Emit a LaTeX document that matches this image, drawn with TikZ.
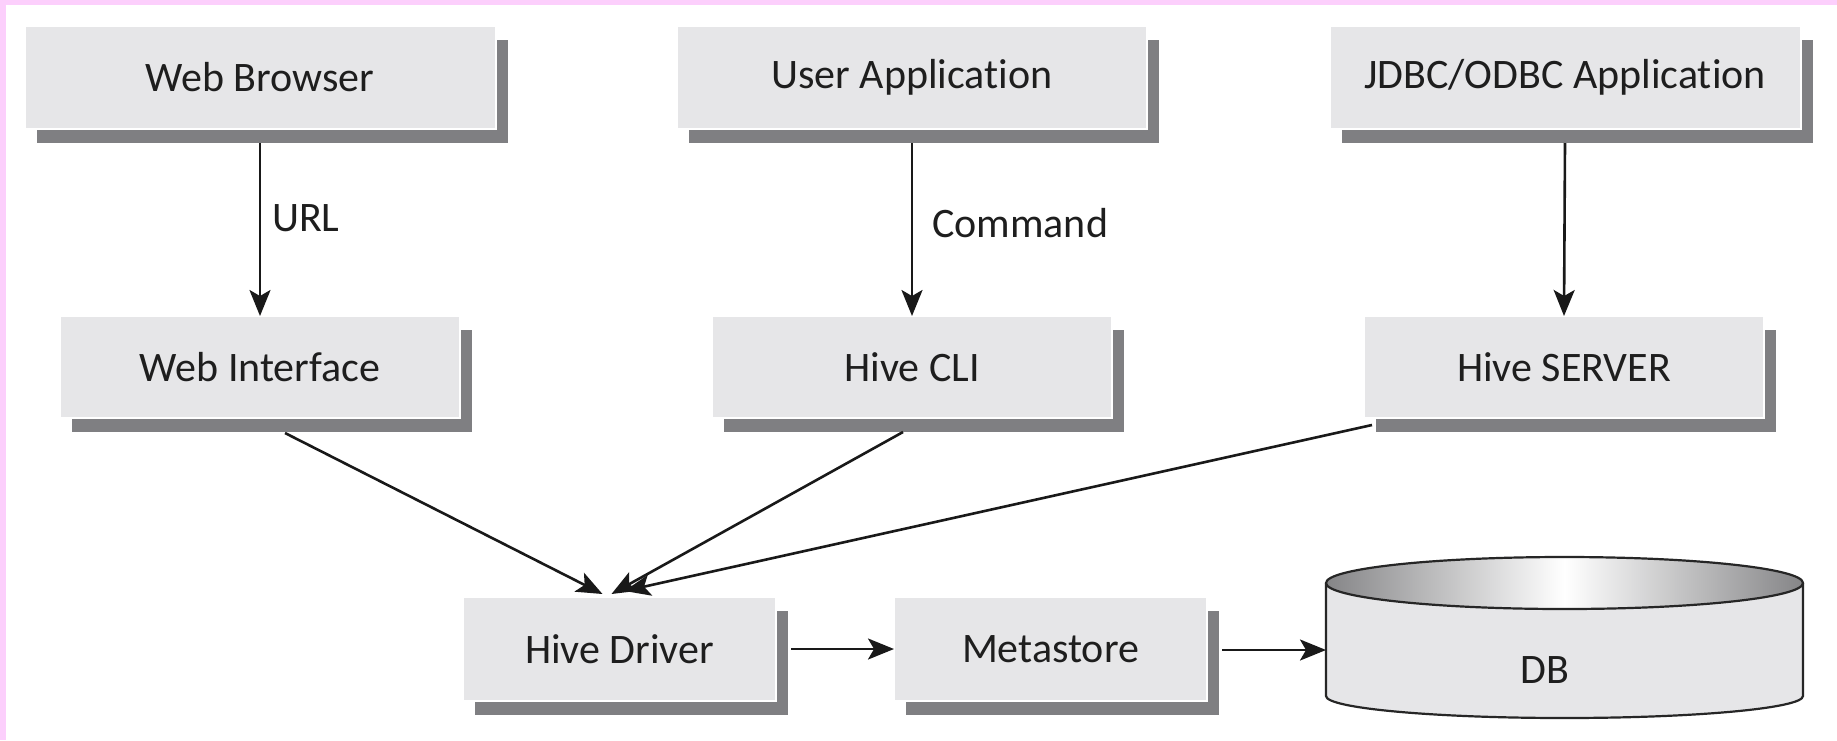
\documentclass[tikz,border=0pt]{standalone}
\usepackage{fontspec}
\setmainfont{Carlito}[Ligatures=NoCommon]
\usetikzlibrary{shadows,arrows.meta}
\definecolor{boxfill}{HTML}{E6E6E8}
\definecolor{shgray}{HTML}{7F7F82}
\definecolor{txt}{HTML}{1E1E1E}
\definecolor{pinkband}{HTML}{FCCFFC}
\definecolor{dbgray}{HTML}{858587}
\tikzset{
  hbox/.style={fill=boxfill, draw=white, line width=2pt, inner sep=0pt, outer sep=0pt,
    text=txt, font=\fontsize{42}{50}\selectfont,
    drop shadow={shadow xshift=12pt, shadow yshift=-14pt, fill=shgray, opacity=1}},
  conn/.style={draw=black!90, line width=2.6pt, -{Stealth[length=26pt,width=21pt,inset=6pt]}},
  lbl/.style={text=txt, font=\fontsize{42}{50}\selectfont, inner sep=0pt, anchor=west}
}
\begin{document}
\begin{tikzpicture}[x=1pt,y=1pt]
\useasboundingbox (0,0) rectangle (1837,-740);
\fill[white] (0,0) rectangle (1837,-740);
\fill[pinkband] (0,0) rectangle (1837,-5);
\fill[pinkband] (0,0) rectangle (6,-740);

% boxes
\node[hbox, minimum width=471pt, minimum height=103pt] (wb) at (260,-77.5) {Web Browser};
\node[hbox, minimum width=470pt, minimum height=103pt] (ua) at (912,-77.5) {User Application};
\node[hbox, minimum width=471pt, minimum height=103pt] (jd) at (1565,-77.5) {JDBC/ODBC Application};
\node[hbox, minimum width=400pt, minimum height=102pt] (wi) at (260,-367) {Web Interface};
\node[hbox, minimum width=400pt, minimum height=102pt] (cli) at (912,-367) {Hive CLI};
\node[hbox, minimum width=400pt, minimum height=102pt] (srv) at (1564,-367) {Hive SERVER};
\node[hbox, minimum width=313pt, minimum height=104pt] (drv) at (619.5,-649) {Hive Driver};
\node[hbox, minimum width=313pt, minimum height=104pt] (meta) at (1050.5,-649) {Metastore};

% DB cylinder
\fill[boxfill] (1326,-583) rectangle (1803,-696);
\fill[boxfill] (1564.5,-696) ellipse [x radius=238.5, y radius=22];
\draw[line width=2.2pt, black!85] (1326,-583) -- (1326,-696)
  arc[start angle=180, end angle=360, x radius=238.5, y radius=22] -- (1803,-583);
\shade[left color=dbgray, right color=dbgray, middle color=white]
  (1564.5,-583) ellipse [x radius=238.5, y radius=26];
\draw[line width=2.2pt, black!85] (1564.5,-583) ellipse [x radius=238.5, y radius=26];
\node[text=txt, font=\fontsize{42}{50}\selectfont, inner sep=0pt] (db) at (1545,-670) {DB};
\coordinate (dbin) at (1326,-650);

% connectors
\draw[conn] ([yshift=-14pt]wb.south) -- (wi.north);
\draw[conn] ([yshift=-14pt]ua.south) -- (cli.north);
\draw[conn] ([yshift=-14pt]jd.south) -- (srv.north);
\node[lbl] (url) at (272,-218) {URL};
\node[lbl] (cmd) at (932,-223) {Command};

\draw[conn] ([shift={(25,-15)}]wi.south) -- ([shift={(-17,3)}]drv.north);
\draw[conn] ([shift={(-9,-14)}]cli.south) -- ([shift={(-8,3)}]drv.north);
\draw[conn] ([shift={(8,-7)}]srv.south west) -- ([shift={(5,6)}]drv.north);

\draw[conn] ([xshift=15pt]drv.east) -- (meta.west);
\draw[conn] ([xshift=15pt,yshift=-1pt]meta.east) -- (dbin);
\end{tikzpicture}
\end{document}
